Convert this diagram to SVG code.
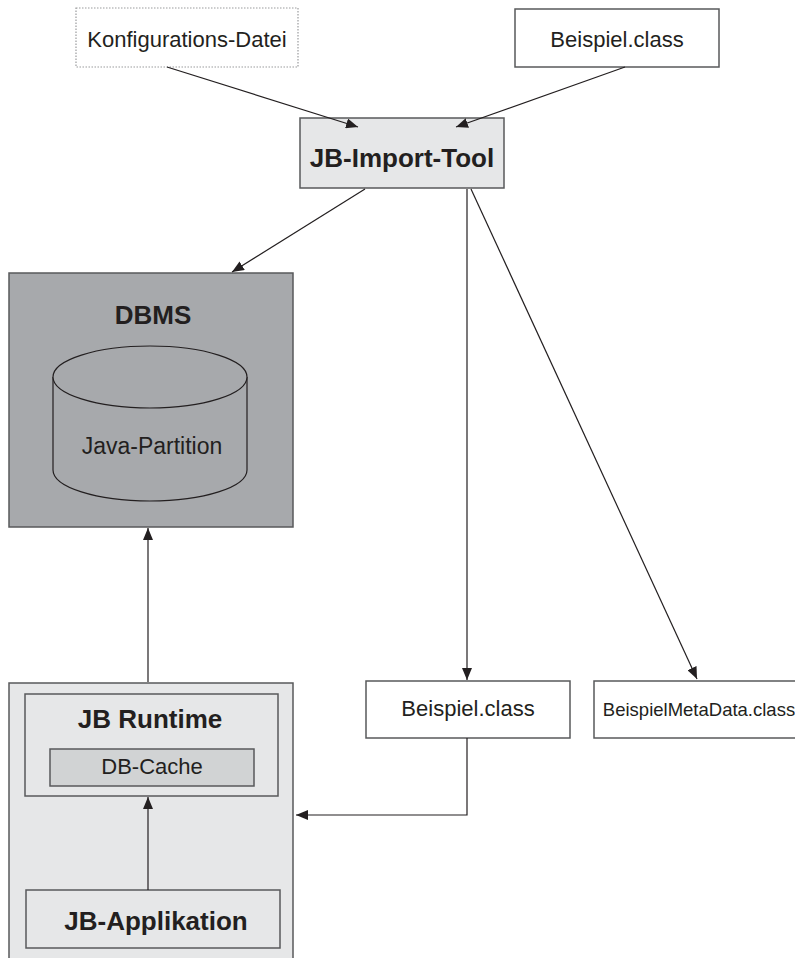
<svg xmlns="http://www.w3.org/2000/svg" width="795" height="958" viewBox="0 0 795 958">
<style>
text{font-family:"Liberation Sans",Arial,sans-serif;fill:#231f20;text-anchor:middle}
.b{font-weight:bold;font-size:26px}
.n{font-size:22px}
.box{stroke:#58595b;stroke-width:1.5}
.c{stroke:#231f20;stroke-width:1.2;fill:none}
</style>
<defs>
<marker id="ah" viewBox="0 0 12 10" refX="12" refY="5" markerWidth="12" markerHeight="10" markerUnits="userSpaceOnUse" orient="auto">
<path d="M0,0 L12,5 L0,10 Z" fill="#231f20"/>
</marker>
</defs>
<rect width="795" height="958" fill="#fff"/>
<g id="konfig">
<rect x="76" y="8" width="222" height="59" fill="#fff" stroke="#9a9b9d" stroke-width="1.2" stroke-dasharray="1.5,1.5"/>
<text class="n" x="187" y="47">Konfigurations-Datei</text>
</g>
<g id="beispiel-top">
<rect class="box" x="515" y="9" width="204" height="58" fill="#fff"/>
<text class="n" x="617" y="47">Beispiel.class</text>
</g>
<g id="import-tool">
<rect class="box" x="300" y="118" width="204" height="70" fill="#e6e7e8"/>
<text class="b" x="402" y="167">JB-Import-Tool</text>
</g>
<g id="dbms">
<rect class="box" x="9" y="273" width="284" height="254" fill="#a7a9ac"/>
<text class="b" x="153" y="324">DBMS</text>
<path d="M53,377 L53,470 A97,31 0 0 0 247,470 L247,377" fill="#a7a9ac" stroke="#231f20" stroke-width="1.2"/>
<ellipse cx="150" cy="377" rx="97" ry="31" fill="#a7a9ac" stroke="#231f20" stroke-width="1.2"/>
<text x="152" y="454" style="font-size:23px">Java-Partition</text>
</g>
<g id="runtime-env">
<rect class="box" x="9" y="683" width="284" height="290" fill="#e6e7e8"/>
</g>
<g id="jb-runtime">
<rect class="box" x="25" y="694" width="253" height="102" fill="#e6e7e8"/>
<text class="b" x="150" y="728">JB Runtime</text>
</g>
<g id="db-cache">
<rect class="box" x="50" y="749" width="204" height="37" fill="#d1d3d4"/>
<text class="n" x="152" y="774">DB-Cache</text>
</g>
<g id="jb-applikation">
<rect class="box" x="26" y="890" width="254" height="58" fill="#e6e7e8"/>
<text class="b" x="156" y="930">JB-Applikation</text>
</g>
<g id="beispiel-bottom">
<rect class="box" x="366" y="681" width="204" height="57" fill="#fff"/>
<text class="n" x="468" y="716">Beispiel.class</text>
</g>
<g id="metadata">
<rect class="box" x="594" y="681" width="210" height="57" fill="#fff"/>
<text x="699" y="716" style="font-size:18.5px">BeispielMetaData.class</text>
</g>
<g id="connectors">
<line class="c" x1="167" y1="67" x2="358" y2="127" marker-end="url(#ah)"/>
<line class="c" x1="625" y1="67" x2="456" y2="127" marker-end="url(#ah)"/>
<line class="c" x1="365" y1="189" x2="232" y2="272" marker-end="url(#ah)"/>
<line class="c" x1="467" y1="189" x2="467" y2="680" marker-end="url(#ah)"/>
<line class="c" x1="471" y1="189" x2="697" y2="679" marker-end="url(#ah)"/>
<line class="c" x1="148" y1="682" x2="148" y2="528" marker-end="url(#ah)"/>
<line class="c" x1="148" y1="890" x2="148" y2="797" marker-end="url(#ah)"/>
<path class="c" d="M467,738 L467,815 L296,815" marker-end="url(#ah)"/>
</g>
</svg>
